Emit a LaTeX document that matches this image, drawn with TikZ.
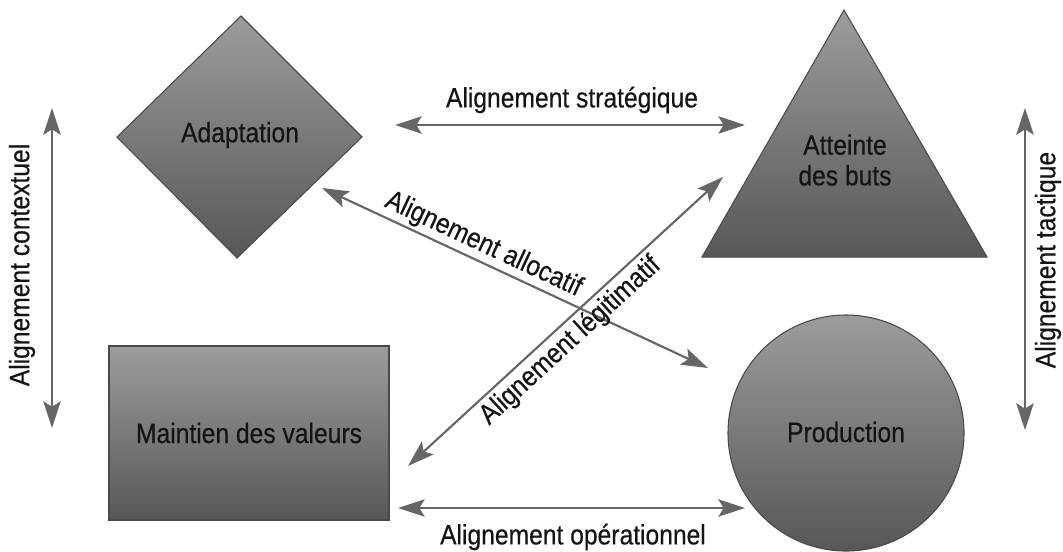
\documentclass[tikz,border=0pt]{standalone}
\usepackage{fontspec}
\setmainfont{Liberation Sans}[FakeStretch=0.88,FakeBold=0.4]
\usetikzlibrary{arrows.meta}
\definecolor{shapetop}{HTML}{9C9C9C}
\definecolor{shapebot}{HTML}{575757}
\definecolor{shapeline}{HTML}{4A4A4A}
\definecolor{linkgray}{HTML}{666666}
\definecolor{ink}{HTML}{141414}
\begin{document}
\begin{tikzpicture}[x=0.75pt,y=-0.75pt,
  block/.style={top color=shapetop, bottom color=shapebot, draw=shapeline, line width=0.8pt},
  lbl/.style={font=\fontsize{21}{23}\selectfont, text=ink, inner sep=0pt},
  link/.style={draw=linkgray, line width=1.6pt,
    {Stealth[length=20pt,width=13pt,inset=4pt]}-{Stealth[length=20pt,width=13pt,inset=4pt]}},
]
\useasboundingbox (0,0) rectangle (1063,551);

% the four functions
\path[block] (117,137) -- (241,16) -- (362,137) -- (237,258) -- cycle;
\path[block] (844,10) -- (987,257) -- (702,257) -- cycle;
\path[block] (109,346) rectangle (389,520);
\path[block] (846,433) circle[radius=118];

\node[lbl] (adapt) at (240,135) {Adaptation};
\node[lbl, align=center] (buts) at (845,160) {Atteinte\\des buts};
\node[lbl] (maint) at (249,433) {Maintien des valeurs};
\node[lbl] (prod) at (846,432) {Production};

% arrow end points
\coordinate (strA) at (395,125);
\coordinate (strB) at (745,125);
\coordinate (opA) at (398,508);
\coordinate (opB) at (745,508);
\coordinate (alA) at (322,188);
\coordinate (alB) at (708,368);
\coordinate (lgA) at (408,466);
\coordinate (lgB) at (723,177);
\coordinate (ctA) at (52,108);
\coordinate (ctB) at (52,428);
\coordinate (tcA) at (1025,108);
\coordinate (tcB) at (1025,430);

% alignments
\draw[link] (strA) -- (strB);
\node[lbl] (strlbl) at (572,100) {Alignement stratégique};
\draw[link] (opA) -- (opB);
\node[lbl] (oplbl) at (573,537) {Alignement opérationnel};
\draw[link] (ctA) -- (ctB);
\node[lbl, rotate=90] (ctlbl) at (22,265) {Alignement contextuel};
\draw[link] (tcA) -- (tcB);
\node[lbl, rotate=90] (tclbl) at (1048,260) {Alignement tactique};
\draw[link] (alA) -- node[lbl, sloped, above=2pt, pos=0.40] (allbl) {Alignement allocatif} (alB);
\draw[link] (lgA) -- node[lbl, sloped, below=2.5pt, pos=0.478] (lglbl) {Alignement légitimatif} (lgB);
\end{tikzpicture}
\end{document}
